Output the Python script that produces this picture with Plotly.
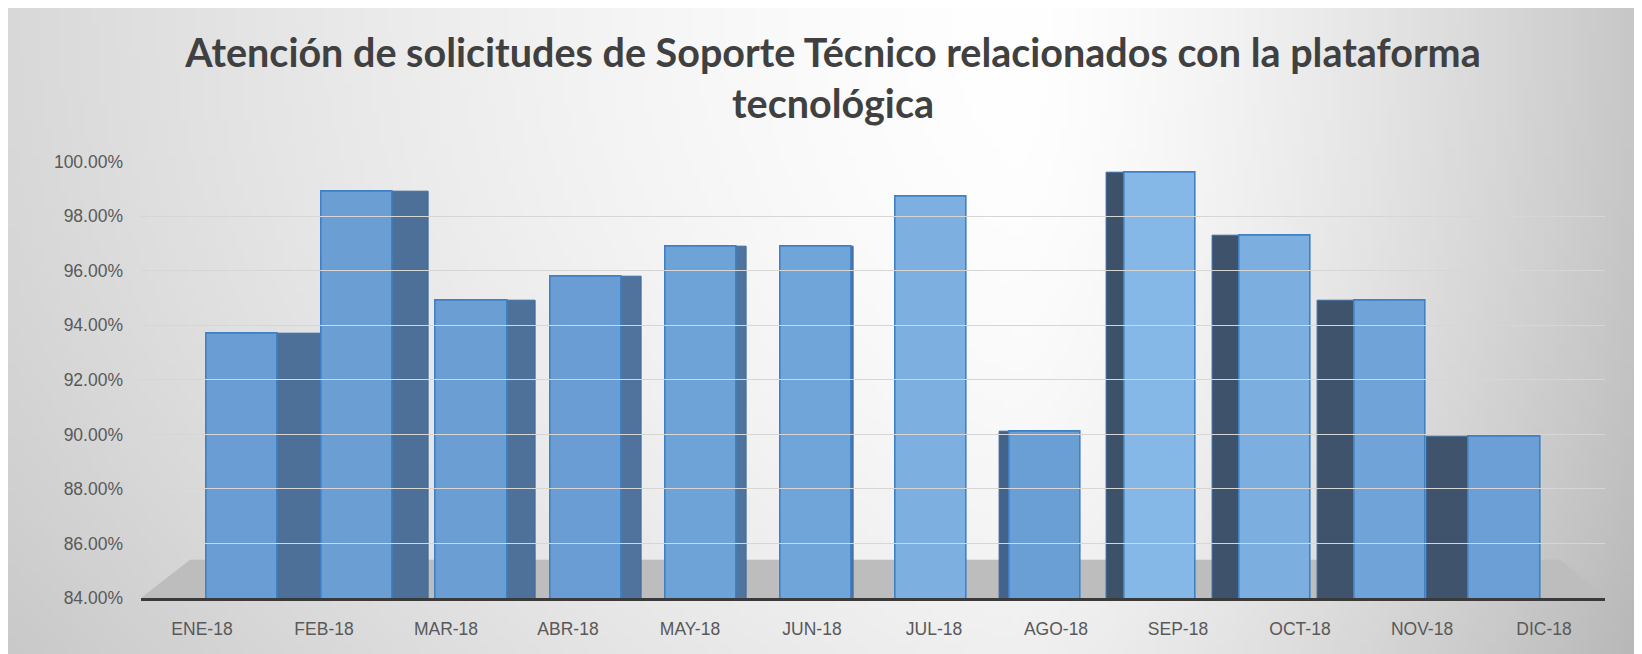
import struct
import zlib
import base64
import numpy as np
import plotly.graph_objects as go

# ---------------- data ----------------
months = ["ENE-18", "FEB-18", "MAR-18", "ABR-18", "MAY-18", "JUN-18",
          "JUL-18", "AGO-18", "SEP-18", "OCT-18", "NOV-18", "DIC-18"]
attention_pct = [93.7, 98.9, 94.9, 95.8, 96.9, 96.9,
                 98.7, 90.1, 99.6, 97.3, 94.9, 89.9]
y_ticks = [84, 86, 88, 90, 92, 94, 96, 98, 100]

# ---------------- styling (3D look) ----------------
front_width = 0.62
side_depth = [0.38, 0.32, 0.25, 0.17, 0.09, 0.02, 0.0, 0.09, 0.16, 0.23, 0.32, 0.37]
side_on_right = [True, True, True, True, True, True, False, False, False, False, False, False]
front_colors = ["#6a9dd3", "#6b9fd4", "#6b9fd4", "#6a9dd3", "#6ea3d8", "#70a5da",
                "#7db0e1", "#6a9fd6", "#85b8e6", "#7caee0", "#70a4d9", "#6b9fd6"]
side_colors = ["#4d7099", "#4d7099", "#4e719a", "#4f739c", "#50749d", "#50749d",
               "#44628a", "#44628a", "#3d5168", "#3e526b", "#3f536c", "#3f536c"]

# page body has an 8px margin at top/left; let the figure run to the window edges
OFF = 8
W, H = 1642 - OFF, 654 - OFF


def xp(px):
    return (px - OFF) / W


def yp(py):
    return 1 - (py - OFF) / H


def gradient_png():
    w, h = 240, 90
    xs = np.linspace(0, 1, w)
    ys = np.linspace(0, 1, h)
    bx = np.where(xs < 0.62,
                  1 - 0.15 * ((0.62 - xs) / 0.62) ** 1.4,
                  1 - 0.22 * ((xs - 0.62) / 0.38) ** 1.4)
    by = 0.06 * ys[:, None] ** 2
    b = np.clip(bx[None, :] - by, 0, 1)
    g = (b * 255).astype(np.uint8)
    img = np.stack([g, g, g], axis=-1)
    raw = b"".join(b"\x00" + img[r].tobytes() for r in range(h))

    def chunk(tag, data):
        c = struct.pack(">I", len(data)) + tag + data
        return c + struct.pack(">I", zlib.crc32(tag + data) & 0xffffffff)

    png = b"\x89PNG\r\n\x1a\n"
    png += chunk(b"IHDR", struct.pack(">IIBBBBB", w, h, 8, 2, 0, 0, 0))
    png += chunk(b"IDAT", zlib.compress(raw, 9))
    png += chunk(b"IEND", b"")
    return "data:image/png;base64," + base64.b64encode(png).decode()


idx = list(range(len(months)))
side_offsets = [(front_width / 2) if r else (-front_width / 2 - d)
                for r, d in zip(side_on_right, side_depth)]

fig = go.Figure()

# side faces (drawn first, behind)
fig.add_trace(go.Bar(
    x=idx, y=attention_pct, width=side_depth, offset=side_offsets,
    marker=dict(color=side_colors, line=dict(color="#3a6a9e", width=1)),
    hoverinfo="skip", showlegend=False,
))
# front faces
fig.add_trace(go.Bar(
    x=idx, y=attention_pct, width=front_width, offset=-front_width / 2,
    marker=dict(color=front_colors, line=dict(color="#4080c4", width=1.6)),
    customdata=months,
    hovertemplate="%{customdata}: %{y:.2f}%<extra></extra>",
    showlegend=False,
))
# invisible helper so the label axis renders
fig.add_trace(go.Scatter(x=[0], y=[84], xaxis="x2", yaxis="y", mode="markers",
                         marker=dict(opacity=0), hoverinfo="skip", showlegend=False))

tick_font = dict(family="'Liberation Sans', Arial, sans-serif", size=17.5, color="#595959")

fig.update_layout(
    width=W, height=H,
    margin=dict(l=0, r=0, t=0, b=0, autoexpand=False),
    paper_bgcolor="white",
    plot_bgcolor="rgba(0,0,0,0)",
    bargap=0, barmode="overlay",
    font=dict(family="Lato, 'Open Sans', sans-serif", color="#595959"),
    title=dict(
        text="Atención de solicitudes de Soporte Técnico relacionados con la plataforma<br>tecnológica",
        x=xp(833), xanchor="center", y=yp(67), yanchor="middle",
        automargin=False,
        font=dict(family="Lato, 'Open Sans', sans-serif", size=39.5, color="#404040", weight="bold"),
    ),
    xaxis=dict(
        domain=[xp(184.6), xp(1562)], range=[-0.5, 11.5],
        showticklabels=False, showgrid=False, zeroline=False, showline=False,
        automargin=False, fixedrange=True,
    ),
    yaxis=dict(
        domain=[yp(598), yp(161.7)], range=[84, 100],
        tickvals=y_ticks, ticktext=[f"{v:.2f}%" for v in y_ticks],
        tickfont=tick_font,
        showgrid=True, gridcolor="#d6d6d6", gridwidth=1.2,
        zeroline=False, showline=False,
        anchor="free", position=xp(123),
        automargin=False, fixedrange=True,
    ),
    xaxis2=dict(
        domain=[xp(141), xp(1605)], range=[-0.5, 11.5],
        anchor="y",
        tickmode="array", tickvals=idx, ticktext=months,
        tickfont=tick_font,
        ticks="", ticklabelstandoff=13,
        showgrid=False, zeroline=False,
        showline=True, linecolor="#3a3a3a", linewidth=2.5,
        automargin=False, fixedrange=True,
    ),
    images=[dict(
        source=gradient_png(), xref="paper", yref="paper",
        x=0, y=1, sizex=1, sizey=1,
        xanchor="left", yanchor="top", sizing="stretch", layer="below",
    )],
    shapes=[dict(
        type="path", xref="paper", yref="y", layer="below",
        path=f"M {xp(141)} 84 L {xp(1608)} 84 L {xp(1560)} 85.4 L {xp(190)} 85.4 Z",
        fillcolor="#bdbdbd", line=dict(width=0),
    )],
)

fig.write_html("out.html")
